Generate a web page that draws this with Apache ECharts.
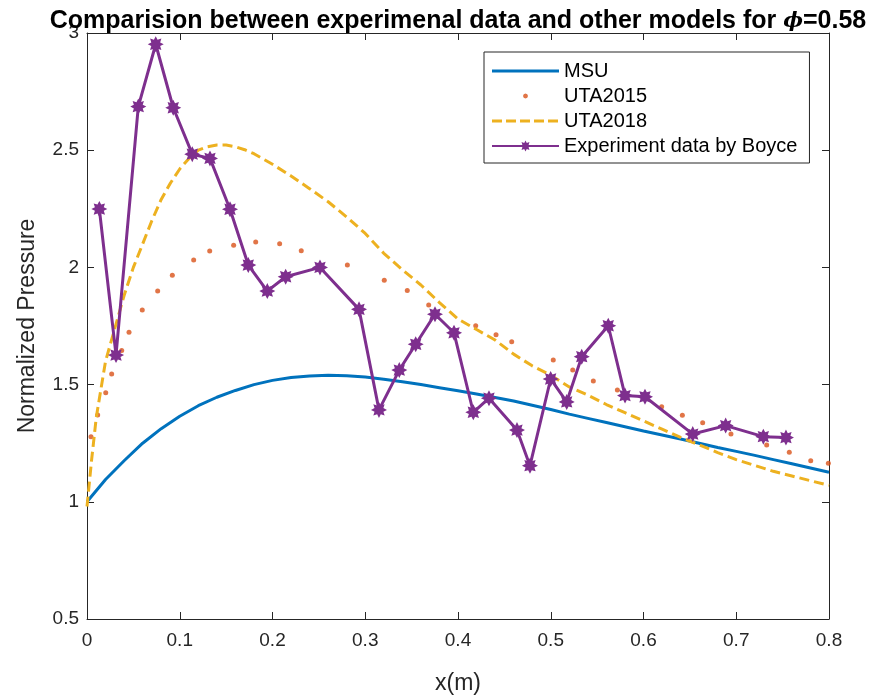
<!DOCTYPE html>
<html>
<head>
<meta charset="utf-8">
<script src="https://cdn.jsdelivr.net/npm/echarts@6/dist/echarts.min.js"></script>
<style>
  html, body { margin: 0; padding: 0; background: #fff; }
  #chart { width: 873px; height: 698px; }
</style>
</head>
<body>
<div id="chart"></div>
<script>
// MSU model curve
const msuX = [0, 0.02, 0.04, 0.06, 0.08, 0.10, 0.12, 0.14, 0.16, 0.18, 0.20, 0.22, 0.24, 0.26, 0.28, 0.30,
  0.32, 0.34, 0.36, 0.38, 0.40, 0.42, 0.44, 0.46, 0.48, 0.50, 0.52, 0.54, 0.56, 0.58, 0.60, 0.62,
  0.64, 0.66, 0.68, 0.70, 0.72, 0.74, 0.76, 0.78, 0.80];
const msuP = [1.000, 1.095, 1.175, 1.250, 1.312, 1.365, 1.410, 1.446, 1.475, 1.500, 1.518, 1.530, 1.537, 1.540, 1.538, 1.532,
  1.523, 1.512, 1.500, 1.487, 1.474, 1.460, 1.445, 1.430, 1.412, 1.394, 1.374, 1.356, 1.338, 1.320, 1.302, 1.285,
  1.268, 1.250, 1.232, 1.215, 1.198, 1.180, 1.162, 1.144, 1.126];

// UTA2015 model (discrete points)
const uta15X = [0.0043, 0.0115, 0.0202, 0.0266, 0.0374, 0.0453, 0.0596, 0.0762, 0.0920, 0.1150, 0.1323, 0.1581,
  0.1819, 0.2077, 0.2310, 0.2807, 0.3205, 0.3453, 0.3684, 0.4191, 0.4410, 0.4579, 0.5027, 0.5237, 0.5459,
  0.5718, 0.6196, 0.6419, 0.6638, 0.6943, 0.7328, 0.7572, 0.7803, 0.7993];
const uta15P = [1.278, 1.370, 1.465, 1.545, 1.645, 1.723, 1.818, 1.899, 1.966, 2.032, 2.070, 2.094,
  2.108, 2.101, 2.071, 2.010, 1.945, 1.901, 1.840, 1.751, 1.713, 1.683, 1.605, 1.562, 1.515,
  1.477, 1.406, 1.369, 1.337, 1.289, 1.242, 1.211, 1.175, 1.164];

// UTA2018 model curve
const uta18X = [0, 0.005, 0.01, 0.02, 0.03, 0.04, 0.05, 0.06, 0.07, 0.08, 0.09, 0.10, 0.11, 0.12, 0.13, 0.14,
  0.15, 0.16, 0.17, 0.18, 0.20, 0.22, 0.24, 0.26, 0.28, 0.30, 0.32, 0.34, 0.36, 0.38, 0.40, 0.42, 0.44,
  0.46, 0.48, 0.50, 0.52, 0.54, 0.56, 0.58, 0.60, 0.62, 0.64, 0.66, 0.68, 0.70, 0.72, 0.74, 0.76, 0.78, 0.80];
const uta18P = [0.98, 1.18, 1.36, 1.60, 1.74, 1.88, 2.00, 2.10, 2.20, 2.29, 2.36, 2.42, 2.465, 2.50, 2.515, 2.522,
  2.522, 2.515, 2.502, 2.485, 2.44, 2.39, 2.336, 2.28, 2.215, 2.145, 2.06, 1.99, 1.925, 1.85, 1.78, 1.735, 1.69,
  1.63, 1.58, 1.54, 1.49, 1.455, 1.415, 1.38, 1.345, 1.31, 1.275, 1.243, 1.21, 1.18, 1.155, 1.13, 1.11, 1.09, 1.07];

// Experiment data by Boyce
const expX = [0.0133, 0.0313, 0.0553, 0.0741, 0.0930, 0.1135, 0.1326, 0.1542, 0.1739, 0.1944, 0.2142, 0.2512,
  0.2933, 0.3148, 0.3367, 0.3544, 0.3752, 0.3957, 0.4165, 0.4334, 0.4636, 0.4776, 0.4999, 0.5172, 0.5334,
  0.5620, 0.5801, 0.6016, 0.6531, 0.6886, 0.7292, 0.7536];
const expP = [2.249, 1.626, 2.686, 2.952, 2.681, 2.483, 2.465, 2.248, 2.010, 1.899, 1.960, 2.000,
  1.821, 1.392, 1.562, 1.672, 1.800, 1.721, 1.382, 1.442, 1.306, 1.154, 1.524, 1.426, 1.619,
  1.751, 1.453, 1.448, 1.289, 1.325, 1.278, 1.274];

const seriesNames = ['MSU', 'UTA2015', 'UTA2018', 'Experiment data by Boyce'];

const zip = (xs, ys) => xs.map((x, i) => [x, ys[i]]);

const FONT = "'Liberation Sans', Arial, Helvetica, sans-serif";
const AXIS_COLOR = '#262626';

// chunky eight-pointed star standing in for a thick asterisk marker
const STAR = 'path://M20,10L15.54,12.30L17.07,17.07L12.30,15.54L10,20L7.70,15.54L2.93,17.07L4.46,12.30L0,10L4.46,7.70L2.93,2.93L7.70,4.46L10,0L12.30,4.46L17.07,2.93L15.54,7.70Z';
// legend icons drawn in a 67x14 box (tiny corner strokes fix the box size)
const BOX = 'M0,0L0.01,0M67,14L66.99,14';
const DOT_ICON = 'path://' + BOX + 'M36,7L35.27,8.77L33.5,9.5L31.73,8.77L31,7L31.73,5.23L33.5,4.5L35.27,5.23Z';
const LINE_ICON = 'path://' + BOX + 'M0,5.5L67,5.5L67,8.5L0,8.5Z';
const DASH_ICON = 'path://' + BOX + 'M0,5.5L10,5.5L10,8.5L0,8.5ZM14,5.5L24,5.5L24,8.5L14,8.5ZM28,5.5L38,5.5L38,8.5L28,8.5Z' +
  'M42,5.5L52,5.5L52,8.5L42,8.5ZM56,5.5L66,5.5L66,8.5L56,8.5Z';

const xAxisBase = {
  type: 'value', min: 0, max: 0.8, interval: 0.1,
  splitLine: { show: false },
  axisLine: { show: true, onZero: false, lineStyle: { color: AXIS_COLOR, width: 1 } },
  axisTick: { show: true, inside: true, length: 7, lineStyle: { color: AXIS_COLOR } }
};
const yAxisBase = {
  type: 'value', min: 0.5, max: 3, interval: 0.5,
  splitLine: { show: false },
  axisLine: { show: true, onZero: false, lineStyle: { color: AXIS_COLOR, width: 1 } },
  axisTick: { show: true, inside: true, length: 7, lineStyle: { color: AXIS_COLOR } }
};

const chart = echarts.init(document.getElementById('chart'), null, { renderer: 'canvas' });
chart.setOption({
  animation: false,
  backgroundColor: '#ffffff',
  title: {
    text: '{a|Comparision between experimenal data and other models for }{b|ϕ}{a|=0.58}',
    left: 453, top: 4, textAlign: 'center',
    textStyle: {
      rich: {
        a: { fontFamily: FONT, fontWeight: 'bold', fontSize: 25, color: '#000' },
        b: { fontFamily: "'DejaVu Serif', serif", fontStyle: 'italic', fontSize: 21, color: '#000' }
      }
    }
  },
  grid: { left: 87, right: 44, top: 33, bottom: 79, containLabel: false, outerBoundsMode: 'none' },
  legend: {
    orient: 'vertical', left: 484, top: 52,
    itemWidth: 67, itemHeight: 14, itemGap: 5,
    padding: [9, 12, 7, 7],
    borderColor: AXIS_COLOR, borderWidth: 1, backgroundColor: '#ffffff',
    textStyle: { fontFamily: FONT, fontSize: 20, color: '#000', lineHeight: 20 },
    data: [
      { name: seriesNames[0], icon: LINE_ICON },
      { name: seriesNames[1], icon: DOT_ICON },
      { name: seriesNames[2], icon: DASH_ICON },
      { name: seriesNames[3] }
    ]
  },
  xAxis: [
    Object.assign({}, xAxisBase, {
      position: 'bottom',
      name: 'x(m)', nameLocation: 'middle', nameGap: 53,
      nameTextStyle: { fontFamily: FONT, fontSize: 23, color: AXIS_COLOR },
      axisLabel: { show: true, margin: 12, fontFamily: FONT, fontSize: 19, color: AXIS_COLOR }
    }),
    Object.assign({}, xAxisBase, { position: 'top', axisLabel: { show: false } })
  ],
  yAxis: [
    Object.assign({}, yAxisBase, {
      position: 'left',
      name: 'Normalized Pressure', nameLocation: 'middle', nameGap: 48,
      nameTextStyle: { fontFamily: FONT, fontSize: 23, color: AXIS_COLOR },
      axisLabel: { show: true, margin: 8, fontFamily: FONT, fontSize: 19, color: AXIS_COLOR }
    }),
    Object.assign({}, yAxisBase, { position: 'right', axisLabel: { show: false } })
  ],
  series: [
    {
      name: seriesNames[0], type: 'line', data: zip(msuX, msuP),
      symbol: 'none', smooth: false, color: '#0072BD',
      lineStyle: { color: '#0072BD', width: 3 }, z: 2
    },
    {
      name: seriesNames[1], type: 'scatter', data: zip(uta15X, uta15P),
      symbol: 'circle', symbolSize: 5, color: '#D95319',
      itemStyle: { color: '#D95319' }, z: 3
    },
    {
      name: seriesNames[2], type: 'line', data: zip(uta18X, uta18P),
      symbol: 'none', smooth: false, color: '#EDB120',
      lineStyle: { color: '#EDB120', width: 3, type: [10, 5] }, z: 4
    },
    {
      name: seriesNames[3], type: 'line', data: zip(expX, expP),
      symbol: STAR, symbolSize: 16, showSymbol: true, color: '#7E2F8E',
      itemStyle: { color: '#7E2F8E' },
      lineStyle: { color: '#7E2F8E', width: 3 }, z: 5
    }
  ]
});
</script>
</body>
</html>
